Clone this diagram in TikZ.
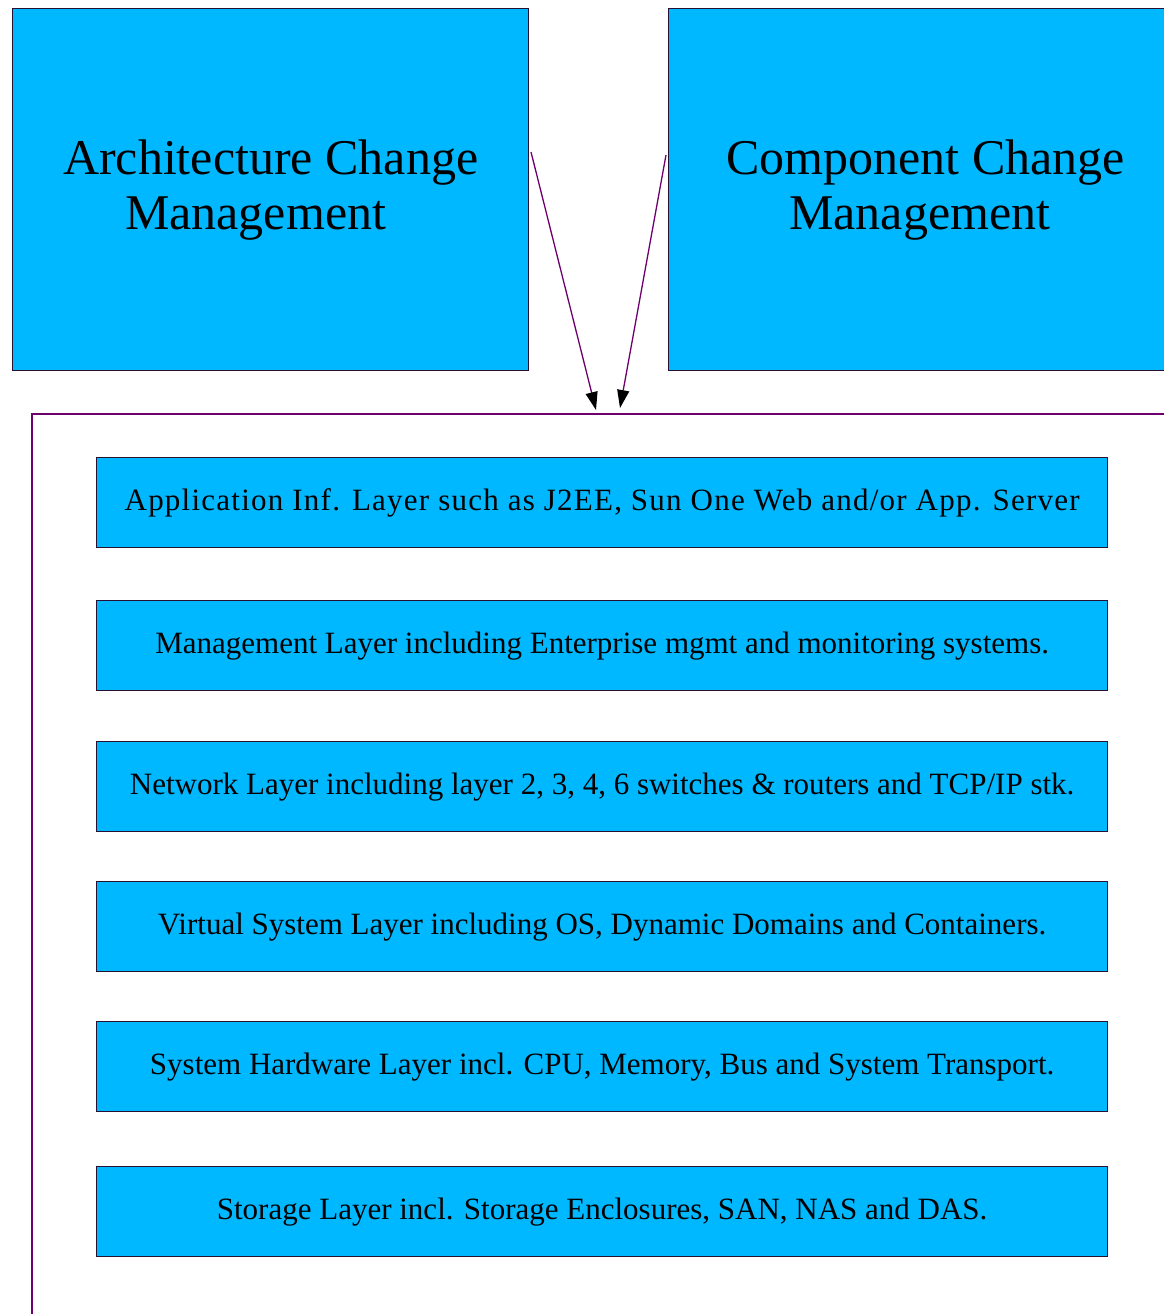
\documentclass[tikz,border=0pt]{standalone}
\usepackage{fontspec}
\setmainfont{Liberation Serif}
\usetikzlibrary{arrows.meta}
\definecolor{boxfill}{RGB}{0,184,255}
\definecolor{boxline}{RGB}{40,16,50}
\definecolor{purp}{RGB}{110,0,110}
\begin{document}
\begin{tikzpicture}[x=1pt,y=-1pt,
  bigbox/.style={draw=boxline,line width=1.3pt,fill=boxfill,anchor=north west,inner sep=0pt,
    font=\fontsize{50}{55}\selectfont,align=center},
  layerbox/.style={draw=boxline,line width=1.3pt,fill=boxfill,anchor=north west,inner sep=0pt,
    minimum width=1011pt,minimum height=90pt,font=\fontsize{31}{36}\selectfont},
  cont/.style={draw=purp,line width=1.6pt,anchor=north west,inner sep=0pt},
  flow/.style={draw=purp,line width=1.3pt,-{Triangle[length=18pt,width=12pt,fill=black,color=black]}}]
\useasboundingbox (0,0) rectangle (1164,1314);
\clip (0,0) rectangle (1164,1314);
\node[bigbox,minimum width=516pt,minimum height=362pt] (arch) at (12,8) {Architecture Change\\Management\hspace*{30pt}};
\node[bigbox,minimum width=514pt,minimum height=362pt] (comp) at (668,8) {Component Change\\Management\hspace*{12pt}};
\node[cont,minimum width=1200pt,minimum height=960pt] (frame) at (31,413) {};
\node[layerbox] (l1) at (96,457) {\addfontfeatures{LetterSpace=4}Application Inf. Layer such as J2EE, Sun One Web and/or App. Server};
\node[layerbox] (l2) at (96,600) {Management Layer including Enterprise mgmt and monitoring systems.};
\node[layerbox] (l3) at (96,741) {Network Layer including layer 2, 3, 4, 6 switches \& routers and TCP/IP stk.};
\node[layerbox] (l4) at (96,881) {Virtual System Layer including OS, Dynamic Domains and Containers.};
\node[layerbox] (l5) at (96,1021) {System Hardware Layer incl. CPU, Memory, Bus and System Transport.};
\node[layerbox] (l6) at (96,1166) {Storage Layer incl. Storage Enclosures, SAN, NAS and DAS.};
\coordinate (a1s) at (531,152);
\coordinate (a1e) at (596,410);
\coordinate (a2s) at (666,155);
\coordinate (a2e) at (620,408);
\draw[flow] (a1s) -- (a1e);
\draw[flow] (a2s) -- (a2e);
\end{tikzpicture}
\end{document}
